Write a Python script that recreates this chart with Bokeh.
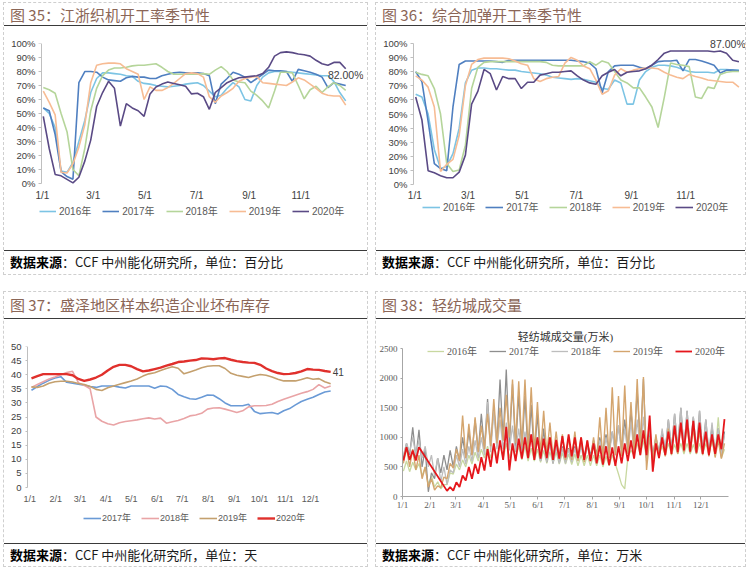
import math
from bokeh.plotting import figure
from bokeh.models import (Range1d, FixedTicker, PrintfTickFormatter, Legend, LegendItem,
                          Label, Div, Spacer, LinearAxis)
from bokeh.layouts import column, row
from bokeh.embed import file_html
from bokeh.resources import INLINE

NAN = float("nan")

# ---------------- data ----------------
years5 = ["2016年", "2017年", "2018年", "2019年", "2020年"]
years4 = ["2017年", "2018年", "2019年", "2020年"]

bi_month_days = [0, 60, 121, 182, 244, 305]
bi_month_labels = ["1/1", "3/1", "5/1", "7/1", "9/1", "11/1"]
month_days = [0, 31, 60, 91, 121, 152, 182, 213, 244, 274, 305, 335]
month_labels = ["1/1", "2/1", "3/1", "4/1", "5/1", "6/1", "7/1", "8/1", "9/1", "10/1", "11/1", "12/1"]

# Fig 35: weekly loom operating rate (%)
c35_days = [1 + 7 * i for i in range(52)]
c35_2016 = [54, 50, 40, 9, 8, 15, 30, 45, 65, 75,
            79, 79, 78.5, 78, 77, 76.5, 73, 71.5, 71, 70,
            69.5, 69, 69.5, 70, 71, 71.5, 72, 70, 66, 62,
            63, 68, 72, 69, 60, 59, 70, 76, 79, 80,
            80, 80, 79.5, 79, 78.5, 78, 77.5, 77, 77, 73,
            65, 59]
c35_2017 = [54, 52, 35, 8.5, 5, 3, 72, 80, 80, 79.5,
            76, 74, 73.5, 73, 75.5, 76.5, 76, 76, 75, 75,
            77, 78, 79, 79.5, 79, 79, 79, 78.5, 77, 57,
            71, 75, 79.5, 78, 76, 72, 75, 78, 81, 80.5,
            80.5, 80, 73, 81.5, 80.5, 79.5, 78, 76, 68.5, 72,
            71, 70]
c35_2018 = [68.5, 67, 64.5, 50, 37, 10, 5.5, 25, 52, 68,
            77, 81, 82.5, 82.5, 83, 84, 84.5, 84.5, 85, 85.5,
            83, 80, 78, 78, 78, 78, 78, 78.5, 78, 81,
            83.5, 80, 74, 72.5, 72, 66, 63, 59, 54, 66,
            79.5, 79.5, 79, 70, 60.5, 67, 69.5, 65, 69, 72,
            70, 66.5]
c35_2019 = [66, 58, 49, 8, 7.5, 14, 26, 42, 72, 84.5,
            85.5, 86, 86, 85.5, 82, 80, 78, 60, 69, 66.5,
            66.5, 68.5, 71.5, 75, 78.5, 79, 78.5, 76, 62, 58,
            62.5, 65, 68, 73, 75, 76, 76.5, 72, 71.5, 71,
            70.5, 70, 72.5, 75.5, 74, 71, 68, 64.5, 63, 62.5,
            62.5, 56]
c35_2020 = [48, 25, 6.5, 5.5, 3, 0.5, 4.5, 16, 31, 55,
            65, 73, 68, 41, 57, 54, 52, 48, 64, 69,
            71, 72.5, 71.5, 70.5, 69.5, 64, 64.5, 62, 53, 65,
            68.5, 72, 74, 75.5, 76, 76.5, 77, 78.5, 83, 91,
            93.5, 94, 93.5, 92.5, 92, 91, 88, 85.5, 84.5, 86.5,
            86.5, 82]

# Fig 36: weekly texturing operating rate (%)
c36_days = [1 + 7 * i for i in range(53)]
c36_2016 = [64, 62, 50, 25, 11.5, 13, 22, 40, 72, 81,
            82.5, 82.5, 82, 82, 81.5, 81, 81, 80, 79.5, 79,
            78.5, 77.5, 76, 75.5, 75, 74.5, 75, 74.5, 73.5, 72.5,
            68, 67.5, 74, 72, 57, 57, 74, 80, 83, 84.5,
            84.5, 84, 83, 81.5, 80, 79.5, 79.5, 79.5, 79, 81.5,
            81.5, 81, 81]
c36_2017 = [80, 73, 45, 15, 11.5, 10, 55, 85, 87.5, 87.5,
            87.5, 87.5, 87.5, 87, 86.5, 88, 88, 88, 88, 88,
            88, 88, 88, 88, 88, 88, 87.5, 87, 86, 82,
            65, 80, 84, 84.5, 84.5, 84.5, 83, 82, 84.5, 87,
            87.5, 87.5, 88, 80.5, 88.5, 88.5, 87.5, 86, 84.5, 79,
            81, 81, 80.5]
c36_2018 = [79.5, 78, 77, 68, 50, 15, 9.5, 10.5, 28, 68,
            83, 86.5, 87, 87, 87, 87, 87, 87, 87, 87,
            87, 86.5, 84.5, 84, 84, 84, 84, 84, 87, 84.5,
            87.5, 86, 80, 74, 72, 68.5, 68.5, 62, 55, 40.5,
            62, 86, 85, 84.5, 83.5, 62, 61, 69, 68, 78,
            79.5, 80, 80]
c36_2019 = [77, 74, 69, 55, 9.5, 14.5, 18, 35, 70, 85,
            88.5, 89.5, 89.5, 89.5, 89.5, 89, 87.5, 85.5, 84.5, 75,
            73, 75, 76, 76.5, 86, 90, 88, 84, 82, 74,
            64, 66.5, 77.5, 82, 79.5, 81, 82, 82.5, 82.5, 82,
            79.5, 77.5, 76, 75, 78, 76.5, 75.5, 74, 73.5, 73,
            72.5, 72.5, 69]
c36_2020 = [62, 46, 10, 8.5, 6.5, 5, 5, 9, 21, 57,
            66, 81.5, 78.5, 67, 76.5, 75, 75, 68, 72.5, 72.5,
            77.5, 78.5, 79.5, 79.5, 80, 80.5, 77, 74, 72, 71,
            77, 79.5, 81.5, 77, 79.5, 80, 80.5, 82, 84.5, 88.5,
            93, 94.5, 94.5, 94.5, 94.5, 94.5, 94.5, 94.5, 94, 94.5,
            93, 88, 87]

# Fig 37: grey fabric inventory (days)
c37_days = [2 + 7 * i for i in range(52)]
c37_2017 = [34.5, 35.8, 37, 38, 38.8, 39.3, 37.3, 37, 36.6, 36.3,
            35.8, 35.5, 36, 36, 36, 35.6, 35.3, 36, 36, 36,
            36, 35.2, 36, 35.8, 34.8, 33, 32.2, 31.5, 31.3, 32,
            32.8, 32.7, 31.5, 30, 29, 29, 29, 29.5, 27, 26.2,
            26.4, 26.6, 26.1, 27.2, 28, 29.3, 30.5, 31.3, 32, 33,
            33.9, 34.2]
c37_2018 = [35.5, 36.5, 37.5, 38.5, 39.2, 40, 40.8, 41.2, 37.2, 36.2,
            35, 25, 23.5, 22.6, 22.2, 23, 23.4, 23.7, 24, 24.4,
            24.7, 24.3, 24.6, 22.8, 23.3, 23.8, 24.5, 25.4, 25.7, 26.3,
            27.8, 28.2, 28.3, 27.8, 27.2, 26.6, 27.2, 28.6, 29, 29,
            29.1, 29.5, 30.5, 31.3, 32, 32.7, 33.4, 34, 34.8, 36.5,
            35.3, 36]
c37_2019 = [35.7, 35.5, 36, 37, 37.5, 37.7, 37.7, 37.4, 36.9, 36.5,
            35.8, 34.8, 34.4, 35.4, 36, 36.6, 37.2, 37.8, 38.5, 39.5,
            40.3, 40.7, 41.5, 42.2, 42.8, 42.3, 40.3, 41, 41.7, 42.5,
            43, 43.2, 43.2, 42.2, 40.5, 39.8, 39.4, 39, 39.6, 40.1,
            39.8, 39.2, 38.4, 37.8, 37.8, 37.8, 38.3, 38.9, 38.4, 38.6,
            37.5, 36.8]
c37_2020 = [38.7, 39.5, 40.2, 40.2, 40.2, 40.2, 40.2, 39.8, 38.5, 37.8,
            38.3, 39, 40, 41.5, 42.8, 43.5, 43.5, 43, 42, 41.2,
            41.5, 42, 42.5, 43.2, 43.8, 44.5, 44.7, 45, 45.2, 45.8,
            45.7, 45.5, 45.8, 45.9, 45.3, 44.8, 44.5, 44.3, 44.2, 43.5,
            42.2, 41.3, 40.6, 40.2, 40.3, 40.6, 41.2, 42, 41.8, 41.7,
            41.3, 41]

# Fig 38: trading volume (10k metres), two readings per week
c38_days = [d for k in range(52) for d in (7 * k + 1, 7 * k + 4.5)]
c38_2016 = [430, 600, 420, 580, 450, 560, 350, 500, 200, 350, 160, 250, 130, 200, 200, 400, 380, 550, 450, 620,
            500, 700, 550, 750, 600, 800, 650, 850, 650, 900, 650, 900, 650, 900, 650, 880, 650, 850, 620, 850,
            600, 820, 600, 800, 580, 780, 560, 760, 560, 750, 550, 740, 550, 720, 540, 720, 520, 700, 520, 700,
            520, 700, 520, 700, 500, 680, 520, 700, 550, 380, 200, 130, 660, 780, 700, 900, 700, 950, 650, 1000,
            650, 850, 700, 850, 700, 900, 720, 880, 720, 900, 720, 900, 720, 880, 720, 900, 720, 900, 720, 950,
            700, 1340, 650, 800]
c38_2017 = [650, 900, 700, 1170, 650, 1130, 500, 800, 80, 400, 300, 650, 400, 700, 450, 780, 500, 850, 600, 1000,
            650, 1100, 700, 1300, 750, 1400, 800, 1650, 850, 1500, 900, 1980, 950, 2150, 850, 1900, 800, 1750, 750, 1700,
            700, 1550, 650, 1400, 600, 1150, 580, 1000, 560, 900, 580, 850, 600, 820, 620, 850, 650, 880, 680, 900,
            700, 950, 720, 1000, 740, 1050, 760, 1100, 780, 1200, 800, 1300, 820, 1450, 850, 1800, 880, 1990, 600, 1100,
            700, 1000, 750, 1100, 780, 1300, 800, 1400, 820, 1500, 800, 1450, 780, 1350, 760, 1450, 740, 1300, 720, 1200,
            700, 1150, 680, 1100]
c38_2018 = [700, 900, 750, 1000, 700, 950, 650, 850, 500, 700, 350, 650, 250, 500, 200, 450, 400, 700, 500, 800,
            550, 850, 600, 950, 650, 1000, 700, 1600, 750, 1450, 800, 1300, 800, 1250, 780, 1200, 750, 1150, 700, 1100,
            680, 1050, 650, 1000, 600, 950, 580, 900, 560, 850, 560, 820, 560, 800, 580, 820, 600, 850, 600, 850,
            620, 880, 650, 950, 680, 1000, 700, 1100, 700, 1200, 720, 1150, 740, 1250, 760, 1300, 780, 1350, 650, 1200,
            600, 1000, 700, 1150, 750, 1300, 780, 1400, 800, 1500, 780, 1450, 760, 1350, 750, 1450, 740, 1300, 720, 1250,
            700, 1150, 680, 1050]
c38_2019 = [560, 830, 500, 800, 450, 700, 300, 500, 160, 300, 110, 180, 150, 330, 300, 560, 480, 800, 600, 1370,
            650, 1230, 700, 1340, 750, 1200, 800, 1400, 850, 1650, 900, 1500, 950, 1720, 1000, 1980, 900, 1950, 850, 1980,
            800, 1850, 750, 1600, 720, 1450, 700, 1250, 650, 1100, 640, 1050, 620, 1000, 620, 1100, 600, 1000, 580, 950,
            600, 1000, 620, 1340, 640, 1500, 650, 1850, 700, 1700, 680, 1880, 720, 1600, 750, 1990, 780, 2020, 450, 1000,
            600, 1050, 650, 1000, 680, 1150, 700, 1200, 720, 1230, 750, 1200, 740, 1150, 720, 1100, 700, 1050, 680, 1000,
            660, 950, 640, 900]
c38_2020 = [610, 835, 620, 780, 610, 835, NAN, NAN, NAN, NAN, NAN, NAN, NAN, NAN, 95, 160, 100, 240, 160, 355,
            270, 500, 300, 550, 384, 665, 440, 800, 500, 900, 560, 950, 620, 1180, 440, 900, 600, 980, 640, 1000,
            650, 1050, 620, 1000, 640, 980, 650, 1000, 620, 960, 640, 1020, 660, 1050, 680, 1000, 650, 1000, 620, 950,
            600, 900, 560, 860, 540, 850, 530, 830, 520, 850, 560, 900, 600, 950, 640, 1050, 700, 1120, 700, 1370,
            420, 900, 650, 1000, 700, 1100, 720, 1200, 750, 1250, 780, 1300, 760, 1280, 740, 1250, 720, 1100, 700, 1050,
            720, 1050, 800, 1310]

# ---------------- helpers ----------------
SANS = "Liberation Sans, Noto Sans CJK SC"
SERIF = "Liberation Serif, Noto Sans CJK SC"


def clean(xs, ys):
    pts = [(x, y) for x, y in zip(xs, ys) if not math.isnan(y)]
    return [a for a, _ in pts], [b for _, b in pts]


def make_fig(w, h, bl, br, bt, bb, xr, yr):
    p = figure(width=w, height=h, output_backend="svg", toolbar_location=None,
               x_range=Range1d(*xr), y_range=Range1d(*yr),
               min_border_left=bl, min_border_right=br,
               min_border_top=bt, min_border_bottom=bb)
    p.xgrid.visible = False
    p.ygrid.visible = False
    p.outline_line_color = None
    p.border_fill_color = "white"
    p.background_fill_color = "white"
    return p


def style_axis(ax, font, size, color, line_color, tick_out, standoff):
    ax.major_label_text_font = font
    ax.major_label_text_font_size = size
    ax.major_label_text_color = color
    ax.axis_line_color = line_color
    ax.major_tick_line_color = line_color if tick_out else None
    ax.major_tick_out = tick_out
    ax.major_tick_in = 0
    ax.minor_tick_line_color = None
    ax.major_label_standoff = standoff


def add_axis_line(p, x_loc, ticks, bounds, color, tick_out):
    """Axis line + tick marks drawn at the data start of the series (labels on main axis)."""
    ax = LinearAxis(fixed_location=x_loc, ticker=FixedTicker(ticks=ticks), bounds=bounds,
                    axis_line_color=color, major_tick_line_color=color,
                    major_tick_out=tick_out, major_tick_in=0, minor_tick_line_color=None,
                    major_label_overrides={t: "" for t in ticks},
                    major_label_text_font_size="1px", major_label_standoff=0)
    p.add_layout(ax, "left")


def make_legend(renderers, labels, loc, font, size, color, glyph_w, glyph_h, spacing, standoff):
    items = [LegendItem(label=l, renderers=[r]) for l, r in zip(labels, renderers)]
    return Legend(items=items, orientation="horizontal", location=loc, padding=0, margin=0,
                  spacing=spacing, glyph_width=glyph_w, glyph_height=glyph_h, label_height=glyph_h,
                  label_width=10, label_standoff=standoff, label_text_font=font,
                  label_text_font_size=size, label_text_color=color,
                  border_line_alpha=0, background_fill_alpha=0)


def title_div(text, w, h, pad_top):
    html = ('<div style="box-sizing:border-box;width:%dpx;height:%dpx;padding-top:%dpx;'
            'border-bottom:1.5px solid #3a3a3a;font-family:\'Noto Sans CJK SC\';font-size:15px;'
            'line-height:20px;color:#8B6657;padding-left:6px;white-space:nowrap;">%s</div>'
            % (w, h, pad_top, text))
    return Div(text=html, width=w, height=h, margin=0)


def source_div(unit, w, h, pad_top):
    html = ('<div style="box-sizing:border-box;width:%dpx;height:%dpx;padding-top:%dpx;'
            'border-top:1.5px solid #3a3a3a;font-family:\'Noto Sans CJK SC\';font-size:13px;'
            'line-height:20px;color:#1a1a1a;padding-left:6px;white-space:nowrap;">'
            '<span style="font-weight:bold;color:#000">数据来源</span>：CCF 中州能化研究所，单位：%s</div>'
            % (w, h, pad_top, unit))
    return Div(text=html, width=w, height=h, margin=0)


PANEL_STYLE = {"border": "1px dashed #cfcfcf"}
pct_ticks = list(range(0, 101, 10))

# ---------------- Fig 35 ----------------
col5a = ["#7CC4E4", "#4F7FC0", "#B5D59A", "#F7BC94", "#5A4A85"]
p1 = make_fig(363, 224, 31, 4, 17, 24, (-8.2, 379), (-30.7, 100))
r1 = []
for ys, c in zip([c35_2016, c35_2017, c35_2018, c35_2019, c35_2020], col5a):
    r1.append(p1.line(c35_days, ys, line_color=c, line_width=1.6))
p1.xaxis.ticker = FixedTicker(ticks=bi_month_days)
p1.xaxis.major_label_overrides = dict(zip(bi_month_days, bi_month_labels))
p1.xaxis.fixed_location = 0
p1.yaxis.ticker = FixedTicker(ticks=pct_ticks)
p1.yaxis.formatter = PrintfTickFormatter(format="%d%%")
style_axis(p1.xaxis[0], SANS, "10px", "#404040", None, 0, 6)
style_axis(p1.yaxis[0], SANS, "9.5px", "#404040", None, 0, 0)
add_axis_line(p1, -1.2, pct_ticks, (0, 100), "#BFBFBF", 3)
p1.add_layout(make_legend(r1, years5, (4, 8), SANS, "10px", "#595959", 17, 12, 11, 3))
p1.add_layout(Label(x=c35_days[-1], y=c35_2020[-1], text="%.2f%%" % c35_2020[-1],
                    text_align="center", text_baseline="top", y_offset=0,
                    text_font=SANS, text_font_size="10.5px", text_color="#404040"))

# ---------------- Fig 36 ----------------
p2 = make_fig(369, 224, 31, 0, 4, 24, (-8.2, 372.4), (-29.4, 109))
r2 = []
for ys, c in zip([c36_2016, c36_2017, c36_2018, c36_2019, c36_2020], col5a):
    r2.append(p2.line(c36_days, ys, line_color=c, line_width=1.6))
p2.xaxis.ticker = FixedTicker(ticks=bi_month_days)
p2.xaxis.major_label_overrides = dict(zip(bi_month_days, bi_month_labels))
p2.xaxis.fixed_location = 0
p2.yaxis.ticker = FixedTicker(ticks=pct_ticks)
p2.yaxis.formatter = PrintfTickFormatter(format="%d%%")
style_axis(p2.xaxis[0], SANS, "10px", "#404040", None, 0, 5)
style_axis(p2.yaxis[0], SANS, "9.5px", "#404040", None, 0, 0)
add_axis_line(p2, -1.46, pct_ticks, (0, 100), "#BFBFBF", 3)
p2.add_layout(make_legend(r2, years5, (15, 12), SANS, "10px", "#595959", 18, 12, 10, 3))
p2.add_layout(Label(x=c36_days[-1], y=c36_2020[-1], text="%.2f%%" % c36_2020[-1],
                    text_align="center", text_baseline="middle", x_offset=-11, y_offset=18,
                    text_font=SANS, text_font_size="10.5px", text_color="#404040"))

# ---------------- Fig 37 ----------------
col4c = ["#6A9AD6", "#E9A4A6", "#C4A06E", "#E0302C"]
widths4c = [1.6, 1.6, 1.6, 2.4]
inv_ticks = list(range(0, 51, 5))
p3 = make_fig(363, 224, 18, 22, 27, 19, (-8.7, 376.7), (-13.1, 50))
r3 = []
for ys, c, lw in zip([c37_2017, c37_2018, c37_2019, c37_2020], col4c, widths4c):
    r3.append(p3.line(c37_days, ys, line_color=c, line_width=lw))
p3.xaxis.ticker = FixedTicker(ticks=month_days)
p3.xaxis.major_label_overrides = dict(zip(month_days, month_labels))
p3.xaxis.fixed_location = 0
p3.yaxis.ticker = FixedTicker(ticks=inv_ticks)
style_axis(p3.xaxis[0], SANS, "9px", "#595959", None, 0, 6)
style_axis(p3.yaxis[0], SANS, "9.5px", "#404040", None, 0, 1)
add_axis_line(p3, -3.1, inv_ticks, (0, 50), "#BFBFBF", 2)
p3.add_layout(make_legend(r3, years4, (61, 0), SANS, "9px", "#595959", 18, 10, 10, 1))
p3.add_layout(Label(x=c37_days[-1], y=c37_2020[-1], text="%.0f" % c37_2020[-1],
                    text_align="left", text_baseline="middle", x_offset=2,
                    text_font=SANS, text_font_size="10px", text_color="#404040"))

# ---------------- Fig 38 ----------------
col5d = ["#C8D8A0", "#8E8E8E", "#BDBDBD", "#D4A56E", "#E5161B"]
widths5d = [1.3, 1.3, 1.3, 1.4, 1.8]
vol_ticks = list(range(0, 2501, 500))
p4 = make_fig(369, 224, 24, 17, 7, 47, (0, 366), (0, 2877))
r4 = []
for ys, c, lw in zip([c38_2016, c38_2017, c38_2018, c38_2019, c38_2020], col5d, widths5d):
    xs, yy = clean(c38_days, ys)
    r4.append(p4.line(xs, yy, line_color=c, line_width=lw))
p4.xaxis.ticker = FixedTicker(ticks=month_days)
p4.xaxis.major_label_overrides = dict(zip(month_days, month_labels))
p4.yaxis.ticker = FixedTicker(ticks=vol_ticks)
p4.yaxis.bounds = (0, 2500)
style_axis(p4.xaxis[0], SERIF, "9px", "#595959", "#A6A6A6", 3, 0)
style_axis(p4.yaxis[0], SERIF, "9px", "#595959", "#A6A6A6", 2, 3)
p4.add_layout(make_legend(r4, years5, (25, 138), SERIF, "10px", "#595959", 17, 12, 12, 3))
p4.add_layout(Label(x=183, y=vol_ticks[-1], y_offset=12, text="轻纺城成交量(万米)",
                    text_align="center", text_baseline="middle",
                    text_font=SERIF, text_font_size="11px", text_color="#333333"))

# ---------------- layout ----------------
panel35 = column(title_div("图 35：江浙织机开工率季节性", 363, 23, 2), p1,
                 source_div("百分比", 363, 24, 1), styles=PANEL_STYLE)
panel36 = column(title_div("图 36：综合加弹开工率季节性", 369, 23, 2), p2,
                 source_div("百分比", 369, 24, 1), styles=PANEL_STYLE)
panel37 = column(title_div("图 37：盛泽地区样本织造企业坯布库存", 363, 27, 3), p3,
                 source_div("天", 363, 23, 1), styles=PANEL_STYLE)
panel38 = column(title_div("图 38：轻纺城成交量", 369, 27, 3), p4,
                 source_div("万米", 369, 23, 1), styles=PANEL_STYLE)

layout = column(Spacer(width=10, height=2),
                row(Spacer(width=3, height=10), panel35, Spacer(width=7, height=10), panel36),
                Spacer(width=10, height=16),
                row(Spacer(width=3, height=10), panel37, Spacer(width=7, height=10), panel38))

open("out.html", "w").write(file_html(layout, INLINE))
